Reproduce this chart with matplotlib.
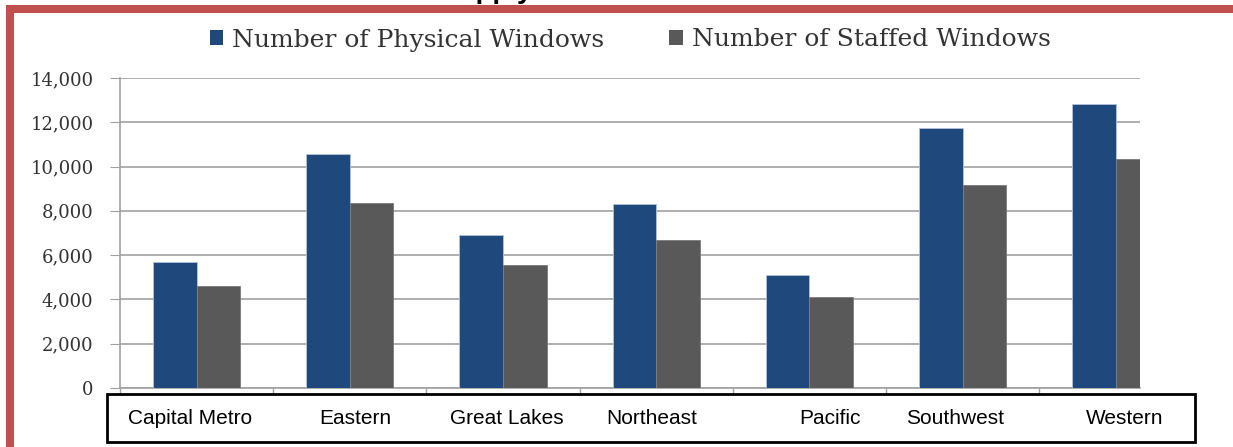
import numpy as np
import matplotlib.pyplot as plt
from matplotlib.patches import Patch, Rectangle

# Datos
regions = ['Capital Metro', 'Eastern', 'Great Lakes', 'Northeast', 'Pacific', 'Southwest', 'Western']
physical = [5690, 10580, 6900, 8310, 5090, 11740, 12840]
staffed = [4600, 8340, 5540, 6700, 4110, 9150, 10320]
series_names = ['Number of Physical Windows', 'Number of Staffed Windows']

blue = '#1F497D'
gray = '#595959'
W, H = 1233, 447

fig = plt.figure(figsize=(W / 100, H / 100), dpi=100)
ax = fig.add_axes([120 / W, 1 - 388 / H, (1140 - 120) / W, (388 - 78) / H])

x = np.arange(len(regions))
bw = 0.284
ax.bar(x - bw / 2, physical, bw, color=blue, edgecolor='#b4c3d8', linewidth=0.6, zorder=3)
ax.bar(x + bw / 2, staffed, bw, color=gray, edgecolor='#7a7a7a', linewidth=0.6, zorder=3)

# marcas de separación entre categorías
ax.set_xticks(np.arange(-0.5, 6.6, 1.0))
ax.set_xticklabels([])
ax.tick_params(axis='x', length=10, color='#a0a0a0', width=1)

# el gráfico original está recortado a la derecha
ax.set_xlim(-0.5, 6.158)
ax.set_ylim(0, 14000)
ax.set_yticks(np.arange(0, 14001, 2000))
ax.set_yticklabels([f'{v:,}' for v in range(0, 14001, 2000)],
                   family='DejaVu Serif', fontsize=13, color='#333333')
ax.yaxis.grid(True, color='#a8a8a8', linewidth=1.3, zorder=0)
ax.tick_params(axis='y', length=7, color='#a0a0a0', pad=12)

for s in ['top', 'right']:
    ax.spines[s].set_visible(False)
for s in ['left', 'bottom']:
    ax.spines[s].set_color('#a0a0a0')
    ax.spines[s].set_linewidth(1.2)

# Caja con nombres de regiones
fig.add_artist(Rectangle((107 / W, 1 - 442 / H), (1195 - 107) / W, (442 - 394) / H,
                         transform=fig.transFigure, facecolor='white',
                         edgecolor='black', linewidth=2, zorder=5))
label_px = [190, 355, 507, 652, 830, 955, 1125]
for name, px in zip(regions, label_px):
    fig.text(px / W, 1 - 418 / H, name, ha='center', va='center',
             family='Liberation Sans', fontsize=15, color='black', zorder=6)

# Leyenda
handles = [Patch(facecolor=blue, edgecolor='none'), Patch(facecolor=gray, edgecolor='none')]
fig.legend(handles, series_names, ncol=2, loc='center', bbox_to_anchor=(630 / W, 1 - 40 / H),
           frameon=False, prop={'family': 'DejaVu Serif', 'size': 18},
           handlelength=0.55, handleheight=0.55, handletextpad=0.35, columnspacing=2.6,
           labelcolor='#333333')

# Borde rojo
red = '#C0504D'
fig.add_artist(Rectangle((6 / W, 0), 8 / W, 1 - 5 / H, transform=fig.transFigure,
                         facecolor=red, edgecolor='none', zorder=7))
fig.add_artist(Rectangle((6 / W, 1 - 13 / H), 1 - 6 / W, 8 / H, transform=fig.transFigure,
                         facecolor=red, edgecolor='none', zorder=7))

# Título cortado arriba
fig.text(440 / W, 1 + 2 / H, 'Supply', ha='left', va='baseline',
         family='Liberation Sans', fontweight='bold', fontsize=20, color='black')

fig.savefig('out.png', dpi=100)
